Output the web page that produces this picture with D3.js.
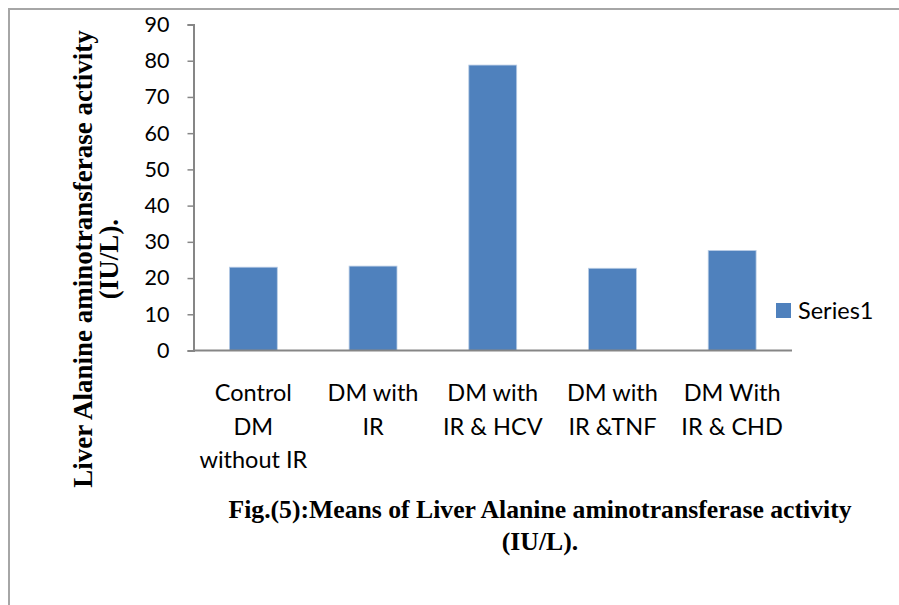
<!DOCTYPE html>
<html>
<head>
<meta charset="utf-8">
<script src="https://cdn.jsdelivr.net/npm/d3@7"></script>
<style>
  html, body { margin: 0; padding: 0; background: #fff; }
  svg { display: block; }
</style>
</head>
<body>
<svg id="chart" width="899" height="605"></svg>
<script>
// Group labels (multi-line) and mean ALT activity per group
const categories = [
  ["Control", "DM", "without IR"],
  ["DM with", "IR"],
  ["DM with", "IR & HCV"],
  ["DM with", "IR &TNF"],
  ["DM With", "IR & CHD"]
];
const values = [23.0, 23.3, 78.8, 22.7, 27.6];
const yTicks = [0, 10, 20, 30, 40, 50, 60, 70, 80, 90];
const seriesName = "Series1";
const yTitle = ["Liver Alanine aminotransferase activity", "(IU/L)."];
const caption = ["Fig.(5):Means of Liver Alanine aminotransferase activity", "(IU/L)."];

const svg = d3.select("#chart");
const sans = "Lato, 'Open Sans', sans-serif";
const serif = "'Liberation Serif', 'Times New Roman', serif";

// outer frame (top and left rules)
svg.append("path")
  .attr("d", "M9,605 V9 H899")
  .attr("fill", "none")
  .attr("stroke", "#a6a6a6")
  .attr("stroke-width", 2);

const plot = { left: 193.5, right: 792, top: 24.5, bottom: 350.5 };

const x = d3.scaleBand()
  .domain(d3.range(categories.length))
  .range([plot.left, plot.right])
  .paddingInner(0.6)
  .paddingOuter(0.3);

const y = d3.scaleLinear().domain([0, 90]).range([plot.bottom, plot.top]);

// bars
svg.append("g").selectAll("rect")
  .data(values)
  .join("rect")
  .attr("x", (d, i) => x(i))
  .attr("y", d => y(d))
  .attr("width", x.bandwidth())
  .attr("height", d => y(0) - y(d))
  .attr("fill", "#4f81bd")
  .attr("stroke", "#b9cde5")
  .attr("stroke-width", 0.8);

// y axis
const yAxis = svg.append("g")
  .attr("transform", `translate(${plot.left},0)`)
  .call(d3.axisLeft(y).tickValues(yTicks).tickSize(6).tickPadding(18));
yAxis.select(".domain").attr("stroke", "#868686").attr("stroke-width", 2);
yAxis.selectAll(".tick line").attr("stroke", "#868686").attr("stroke-width", 1.5);
yAxis.selectAll(".tick text")
  .attr("font-family", sans)
  .attr("font-size", 21.5)
  .attr("fill", "#000");

// x axis baseline
svg.append("line")
  .attr("x1", plot.left).attr("x2", plot.right)
  .attr("y1", y(0)).attr("y2", y(0))
  .attr("stroke", "#868686").attr("stroke-width", 2);

// category labels
const xl = svg.append("g").selectAll("text")
  .data(categories)
  .join("text")
  .attr("text-anchor", "middle")
  .attr("font-family", sans)
  .attr("font-size", 23.5)
  .attr("fill", "#000");
xl.selectAll("tspan")
  .data((d, i) => d.map(t => ({ t, i })))
  .join("tspan")
  .attr("x", d => x(d.i) + x.bandwidth() / 2)
  .attr("y", (d, j) => 401 + j * 33.5)
  .text(d => d.t);

// legend
svg.append("rect")
  .attr("x", 776).attr("y", 303).attr("width", 15).attr("height", 15)
  .attr("fill", "#4f81bd");
svg.append("text")
  .attr("x", 798).attr("y", 319)
  .attr("font-family", sans)
  .attr("font-size", 23.5)
  .attr("fill", "#000")
  .text(seriesName);

// y-axis title
const yt = svg.append("text")
  .attr("transform", "translate(0,259) rotate(-90)")
  .attr("text-anchor", "middle")
  .attr("font-family", serif)
  .attr("font-weight", "bold")
  .attr("font-size", 27)
  .attr("fill", "#000");
yt.selectAll("tspan")
  .data(yTitle)
  .join("tspan")
  .attr("x", 0)
  .attr("y", (d, i) => 92 + i * 26)
  .text(d => d);

// caption
const cap = svg.append("text")
  .attr("text-anchor", "middle")
  .attr("font-family", serif)
  .attr("font-weight", "bold")
  .attr("font-size", 25.7)
  .attr("fill", "#000");
cap.selectAll("tspan")
  .data(caption)
  .join("tspan")
  .attr("x", 540)
  .attr("y", (d, i) => 518 + i * 32)
  .text(d => d);
</script>
</body>
</html>
